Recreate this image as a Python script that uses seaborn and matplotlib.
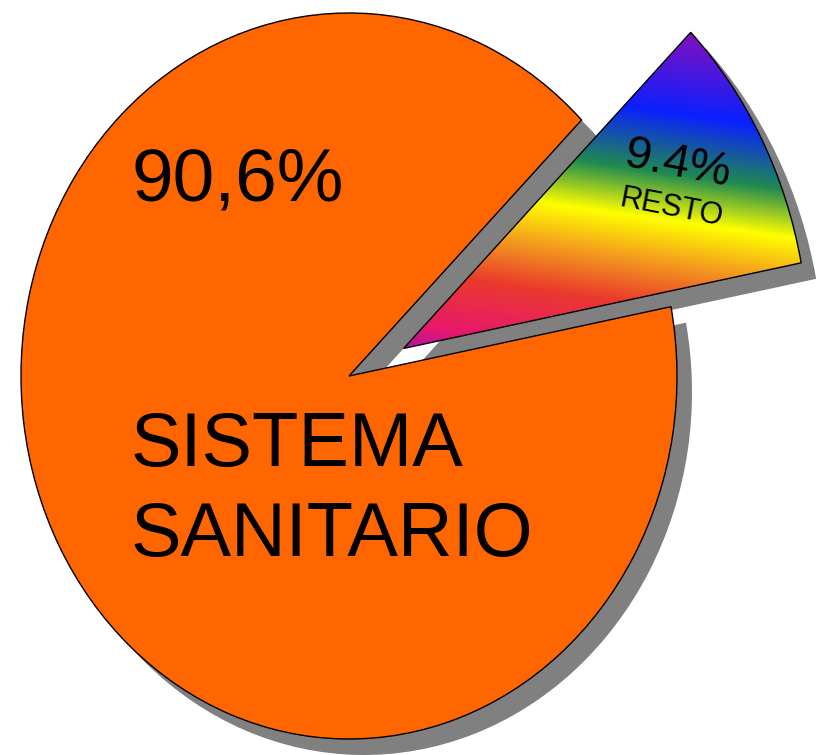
import numpy as np
import matplotlib
matplotlib.use("Agg")
import matplotlib.pyplot as plt
from matplotlib.colors import LinearSegmentedColormap
import seaborn as sns

sns.set_style("white")
plt.rcParams['font.family'] = ['Liberation Sans', 'DejaVu Sans']

# datos
valores = [90.6, 9.4]
textos_pct = ["90,6%", "9.4%"]
lineas_sistema = ["SISTEMA", "SANITARIO"]
texto_resto = "RESTO"

NARANJA = "#FF6600"
GRIS = "#808080"
colores_arcoiris = [(0.00, "#A010B0"), (0.09, "#E8186C"), (0.24, "#EA3A2C"),
                    (0.36, "#F39A1E"), (0.48, "#FFFF00"), (0.61, "#208A50"),
                    (0.78, "#0A20FF"), (1.00, "#8010C0")]

# escala vertical para que la tarta salga un poco alargada (elipse)
K = 328 / 363


def y_px(py):
    return (755 - py) * K


fig = plt.figure(figsize=(8.18, 7.55), dpi=100)
ax = fig.add_axes([0, 0, 1, 1])

centro = (349, y_px(376))
radio_grande = 328
radio_chico = 405
inicio = 44.85
desp = (15, -16 * K)

# la porcion chica sale hacia fuera, algo por debajo de la bisectriz del hueco
borde_inf = inicio + valores[0] / 100 * 360 - 360
ang = np.deg2rad(borde_inf + 13.5)
punta = (centro[0] + 60 * np.cos(ang), centro[1] + 60 * np.sin(ang))

# sombras
for c, r, oculto in [(centro, radio_grande, 1), (punta, radio_chico, 0)]:
    ws, _ = ax.pie(valores, startangle=inicio, radius=r,
                   center=(c[0] + desp[0], c[1] + desp[1]),
                   colors=[GRIS, GRIS], wedgeprops=dict(linewidth=0, zorder=1))
    ws[oculto].set_visible(False)

# porcion grande
ws_g, _ = ax.pie(valores, startangle=inicio, radius=radio_grande, center=centro,
                 colors=[NARANJA, NARANJA],
                 wedgeprops=dict(edgecolor="black", linewidth=1.0, zorder=2))
ws_g[1].set_visible(False)

# porcion chica (resto), con degradado
ws_c, _ = ax.pie(valores, startangle=inicio, radius=radio_chico, center=punta,
                 colors=["none", "none"],
                 wedgeprops=dict(edgecolor="black", linewidth=1.0, zorder=4))
ws_c[0].set_visible(False)

cmap = LinearSegmentedColormap.from_list("arcoiris", colores_arcoiris)
xs = np.linspace(380, 830, 450)
ys = np.linspace(y_px(370), y_px(0), 450)
X, Y = np.meshgrid(xs, ys)
PY = 755 - Y / K
t = (0.14 * X - 0.99 * PY + 297.4) / 360
im = ax.imshow(np.clip(t, 0, 1), extent=(380, 830, y_px(370), y_px(0)),
               origin="lower", cmap=cmap, vmin=0, vmax=1, aspect="auto",
               interpolation="bilinear", zorder=3)
im.set_clip_path(ws_c[1])

# textos
ax.text(237.5, y_px(200), textos_pct[0], fontsize=54, color="black",
        ha="center", va="baseline", zorder=5)
ax.text(131, y_px(466), lineas_sistema[0], fontsize=54.5, color="black",
        ha="left", va="baseline", zorder=5)
ax.text(131, y_px(556), lineas_sistema[1], fontsize=54.5, color="black",
        ha="left", va="baseline", zorder=5)
ax.text(678, y_px(164), textos_pct[1], fontsize=34, color="black", rotation=-11,
        ha="center", va="center", rotation_mode="anchor", zorder=5)
ax.text(671, y_px(208), texto_resto, fontsize=22, color="black", rotation=-11,
        ha="center", va="center", rotation_mode="anchor", zorder=5)

ax.set_xlim(0, 818)
ax.set_ylim(0, 755 * K)
ax.set_aspect("auto")
ax.axis("off")

fig.savefig("out.png", dpi=100)
